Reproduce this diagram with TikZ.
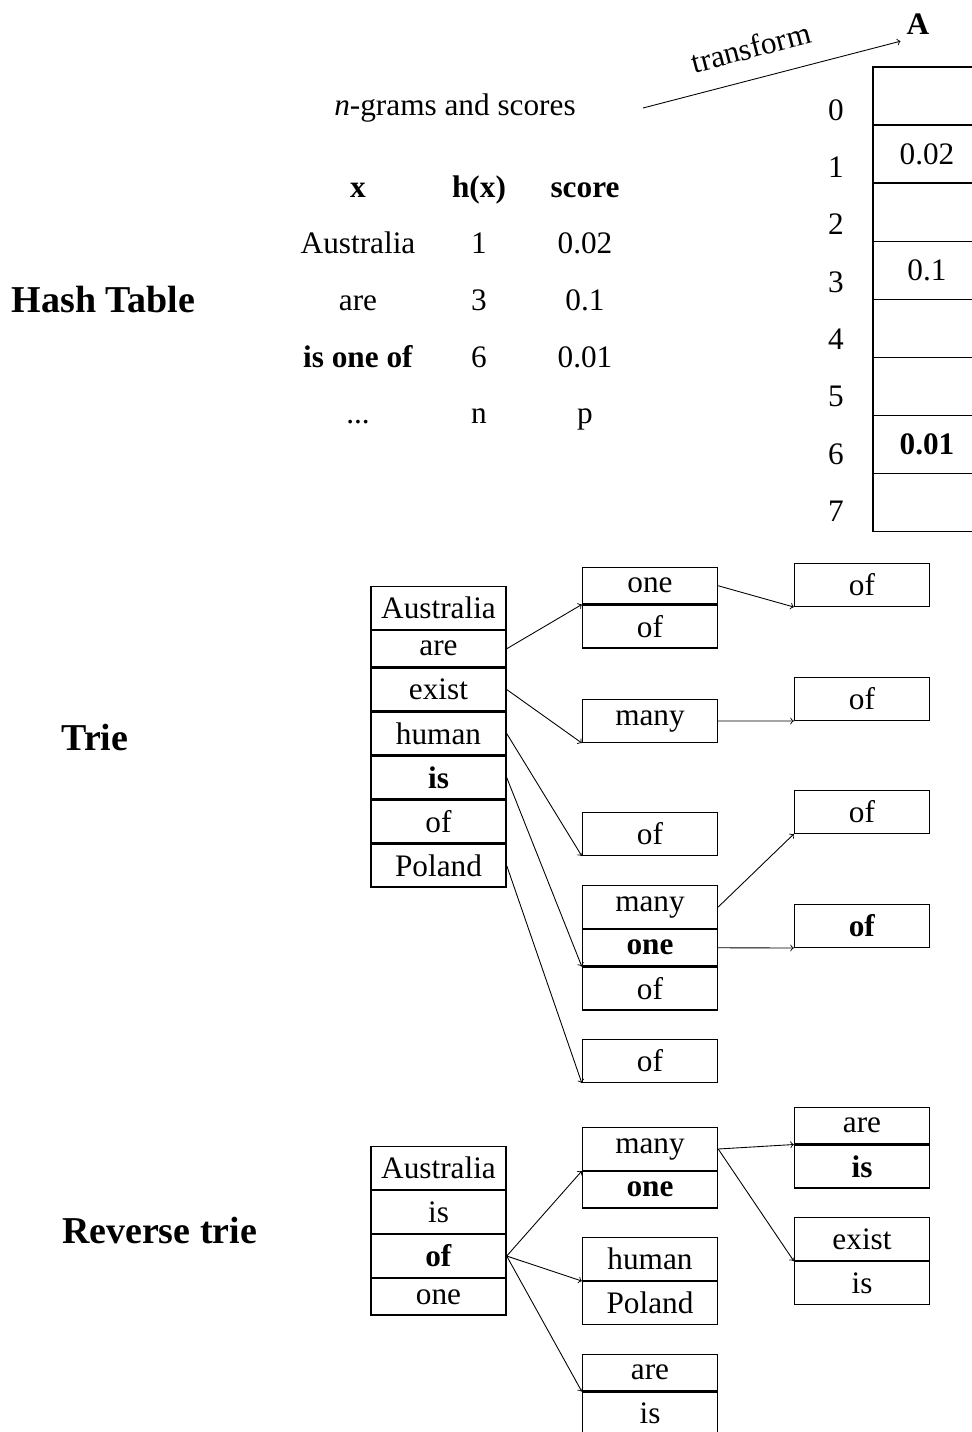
\documentclass[tikz,border=0pt]{standalone}
\usepackage{fontspec}
\setmainfont{Liberation Serif}
\usetikzlibrary{positioning}

\tikzset{
  every node/.style={font=\fontsize{17.8}{21}\selectfont},
  heading/.style={font=\fontsize{21.6}{26}\selectfont\bfseries},
  cell/.style={draw, line width=0.8pt, minimum width=2.70cm, minimum height=0.852cm, inner sep=0pt},
  flat/.style={cell, minimum height=0.722cm},
  slot/.style={draw, line width=0.8pt, minimum width=2.16cm, minimum height=1.162cm, inner sep=0pt},
  link/.style={->, line width=0.5pt},
}

\begin{document}
\begin{tikzpicture}[x=0.2mm,y=-0.2mm]
\useasboundingbox (0,0) rectangle (971,1432);

% hash table
\node[heading,anchor=base] (hash) at (103.5,312) {Hash Table};
\node[anchor=base] (ngrams) at (455,115) {\emph{n}-grams and scores};

\node[anchor=base] (hx) at (358,197) {\textbf{x}};
\node[anchor=base] (hh) at (479,197) {\textbf{h(x)}};
\node[anchor=base] (hs) at (585,197) {\textbf{score}};

\node[anchor=base] (x1) at (358,253) {Australia};
\node[anchor=base] (h1) at (479,253) {1};
\node[anchor=base] (s1) at (585,253) {0.02};
\node[anchor=base] (x2) at (358,310) {are};
\node[anchor=base] (h2) at (479,310) {3};
\node[anchor=base] (s2) at (585,310) {0.1};
\node[anchor=base] (x3) at (358,367) {\textbf{is one of}};
\node[anchor=base] (h3) at (479,367) {6};
\node[anchor=base] (s3) at (585,367) {0.01};
\node[anchor=base] (x4) at (358,423) {...};
\node[anchor=base] (h4) at (479,423) {n};
\node[anchor=base] (s4) at (585,423) {p};

\node[anchor=base] (A) at (918,35) {\textbf{A}};
\coordinate (tf) at (643,108);
\draw[link] (tf) -- node[pos=0.45,sloped,above=8pt] (tflabel) {transform} (A.south west);

\node[slot] (a0) at (927,96) {};
\node[slot] (a1) at (927,154.1) {0.02};
\node[slot] (a2) at (927,212.2) {};
\node[slot] (a3) at (927,270.3) {0.1};
\node[slot] (a4) at (927,328.4) {};
\node[slot] (a5) at (927,386.5) {};
\node[slot] (a6) at (927,444.6) {\textbf{0.01}};
\node[slot] (a7) at (927,502.7) {};

\node (i0) at (836,110) {0};
\node (i1) at (836,167.3) {1};
\node (i2) at (836,224.6) {2};
\node (i3) at (836,281.9) {3};
\node (i4) at (836,339.2) {4};
\node (i5) at (836,396.5) {5};
\node (i6) at (836,453.8) {6};
\node (i7) at (836,511.1) {7};

% trie
\node[heading,anchor=base] (trie) at (95,750.5) {Trie};

\node[cell,anchor=north] (t-aus) at (438.5,586) {Australia};
\node[flat,below=0pt of t-aus] (t-are) {are};
\node[cell,below=0pt of t-are] (t-exist) {exist};
\node[cell,below=0pt of t-exist] (t-human) {human};
\node[cell,below=0pt of t-human] (t-is) {\textbf{is}};
\node[cell,below=0pt of t-is] (t-of) {of};
\node[cell,below=0pt of t-of] (t-pol) {Poland};

\node[flat,anchor=north] (t-one) at (650,567) {one};
\node[cell,below=0pt of t-one] (t-one-of) {of};
\node[cell,anchor=north] (t-many) at (650,699) {many};
\node[cell,anchor=north] (t-hum-of) at (650,812) {of};
\node[cell,anchor=north] (t-is-many) at (650,885) {many};
\node[flat,below=0pt of t-is-many] (t-is-one) {\textbf{one}};
\node[cell,below=0pt of t-is-one] (t-is-of) {of};
\node[cell,anchor=north] (t-pol-of) at (650,1039) {of};

\node[cell,anchor=north] (t-one-end) at (862,563) {of};
\node[cell,anchor=north] (t-many-end) at (862,677) {of};
\node[cell,anchor=north] (t-is-many-end) at (862,790) {of};
\node[cell,anchor=north] (t-is-one-end) at (862,904) {\textbf{of}};

\draw[link] (t-are.east) -- (t-one.south west);
\draw[link] (t-exist.east) -- (t-many.south west);
\draw[link] (t-human.east) -- (t-hum-of.south west);
\draw[link] (t-is.east) -- (t-is-one.south west);
\draw[link] (t-pol.east) -- (t-pol-of.south west);
\draw[link] (t-one.east) -- (t-one-end.south west);
\draw[link] (t-many.east) -- (t-many-end.south west);
\draw[link] (t-is-many.east) -- (t-is-many-end.south west);
\draw[link] (t-is-one.east) -- (t-is-one-end.south west);

% reverse trie
\node[heading,anchor=base] (rtrie) at (159.5,1243.5) {Reverse trie};

\node[cell,anchor=north] (r-aus) at (438.5,1146) {Australia};
\node[cell,below=0pt of r-aus] (r-is) {is};
\node[cell,below=0pt of r-is] (r-of) {\textbf{of}};
\node[flat,below=0pt of r-of] (r-one) {one};

\node[cell,anchor=north] (r-many) at (650,1127) {many};
\node[flat,below=0pt of r-many] (r-many-one) {\textbf{one}};
\node[cell,anchor=north] (r-human) at (650,1237) {human};
\node[cell,below=0pt of r-human] (r-pol) {Poland};
\node[flat,anchor=north] (r-are) at (650,1354) {are};
\node[cell,below=0pt of r-are] (r-are-is) {is};

\node[flat,anchor=north] (r-are-end) at (862,1107) {are};
\node[cell,below=0pt of r-are-end] (r-is-end) {\textbf{is}};
\node[cell,anchor=north] (r-exist) at (862,1217) {exist};
\node[cell,below=0pt of r-exist] (r-exist-is) {is};

\draw[link] (r-of.east) -- (r-many.south west);
\draw[link] (r-of.east) -- (r-human.south west);
\draw[link] (r-of.east) -- (r-are.south west);
\draw[link] (r-many.east) -- (r-are-end.south west);
\draw[link] (r-many.east) -- (r-exist.south west);
\end{tikzpicture}
\end{document}
